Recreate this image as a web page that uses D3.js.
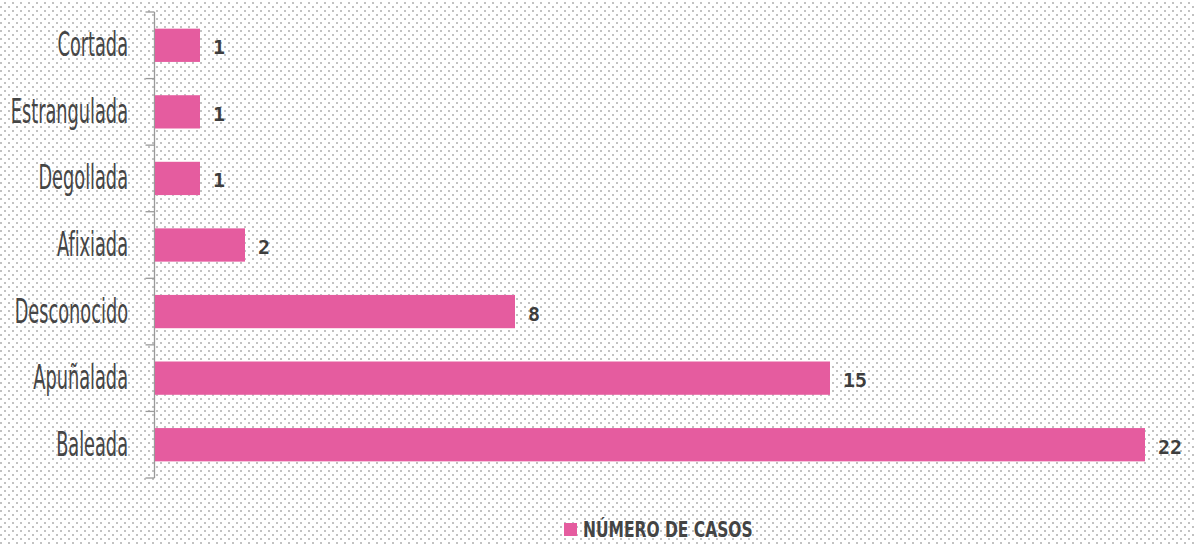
<!DOCTYPE html>
<html lang="es">
<head>
  <meta charset="UTF-8">
  <title>Número de casos</title>
  <script src="https://d3js.org/d3.v7.min.js"></script>
  <style>
    body { margin: 0; background: #fff; }
    .cat { font-family: "DejaVu Sans Condensed", "DejaVu Sans", sans-serif; font-stretch: condensed; font-size: 34px; fill: #454545; }
    .val { font-family: "DejaVu Sans Mono", monospace; font-weight: bold; font-size: 20px; fill: #3d3d3d; }
    .legend { font-family: "DejaVu Sans Condensed", "DejaVu Sans", sans-serif; font-stretch: condensed; font-weight: bold; font-size: 21px; fill: #444; }
  </style>
</head>
<body>
  <svg id="chart"></svg>
  <script>
    // data
    const categories = ["Cortada", "Estrangulada", "Degollada", "Afixiada", "Desconocido", "Apuñalada", "Baleada"];
    const casos = [1, 1, 1, 2, 8, 15, 22];
    const seriesName = "NÚMERO DE CASOS";

    const width = 1194, height = 546;
    const pink = "#e55c9f";

    const svg = d3.select("#chart")
      .attr("width", width)
      .attr("height", height);

    // dotted paper background
    const pat = svg.append("defs").append("pattern")
      .attr("id", "dots")
      .attr("width", 8).attr("height", 8)
      .attr("patternUnits", "userSpaceOnUse");
    pat.append("rect").attr("width", 8).attr("height", 8).attr("fill", "#fff");
    pat.append("rect").attr("x", 4).attr("y", 2).attr("width", 2).attr("height", 2).attr("fill", "#c2c2c2");
    pat.append("rect").attr("x", 0).attr("y", 6).attr("width", 2).attr("height", 2).attr("fill", "#c2c2c2");
    svg.append("rect").attr("width", width).attr("height", height).attr("fill", "url(#dots)");

    const axisX = 154.5;

    const y = d3.scaleBand()
      .domain(categories)
      .range([12, 478])
      .paddingInner(0.5)
      .paddingOuter(0.25);

    const x = d3.scaleLinear()
      .domain([0, 22])
      .range([155, 1145]);

    // axis line + ticks at band boundaries
    const step = y.step();
    const bounds = categories.map(c => y(c) - step * 0.25).concat([y.range()[1]]);
    const axis = svg.append("g").attr("stroke", "#9a9a9a").attr("stroke-width", 1.3);
    axis.append("line")
      .attr("x1", axisX).attr("x2", axisX)
      .attr("y1", y.range()[0]).attr("y2", y.range()[1]);
    axis.selectAll(".tick")
      .data(bounds)
      .enter()
      .append("line")
      .attr("x1", axisX - 9).attr("x2", axisX)
      .attr("y1", d => d).attr("y2", d => d);

    const data = categories.map((c, i) => ({ cat: c, v: casos[i] }));

    // bars
    svg.selectAll(".bar")
      .data(data)
      .enter()
      .append("rect")
      .attr("class", "bar")
      .attr("x", x(0))
      .attr("y", d => y(d.cat))
      .attr("width", d => x(d.v) - x(0))
      .attr("height", y.bandwidth())
      .attr("fill", pink);

    // category labels (squeezed to look condensed)
    svg.selectAll(".cat")
      .data(data)
      .enter()
      .append("text")
      .attr("class", "cat")
      .attr("text-anchor", "end")
      .attr("transform", d => "translate(128," + (y(d.cat) + y.bandwidth() / 2 + 11) + ") scale(0.58,1)")
      .text(d => d.cat);

    // value labels
    svg.selectAll(".val")
      .data(data)
      .enter()
      .append("text")
      .attr("class", "val")
      .attr("x", d => x(d.v) + 13)
      .attr("y", d => y(d.cat) + y.bandwidth() / 2 + 9)
      .text(d => d.v);

    // legend
    const lg = svg.append("g").attr("transform", "translate(564,523)");
    lg.append("rect").attr("width", 13).attr("height", 13).attr("fill", pink);
    lg.append("text")
      .attr("class", "legend")
      .attr("transform", "translate(19,14) scale(0.82,1)")
      .text(seriesName);
  </script>
</body>
</html>
